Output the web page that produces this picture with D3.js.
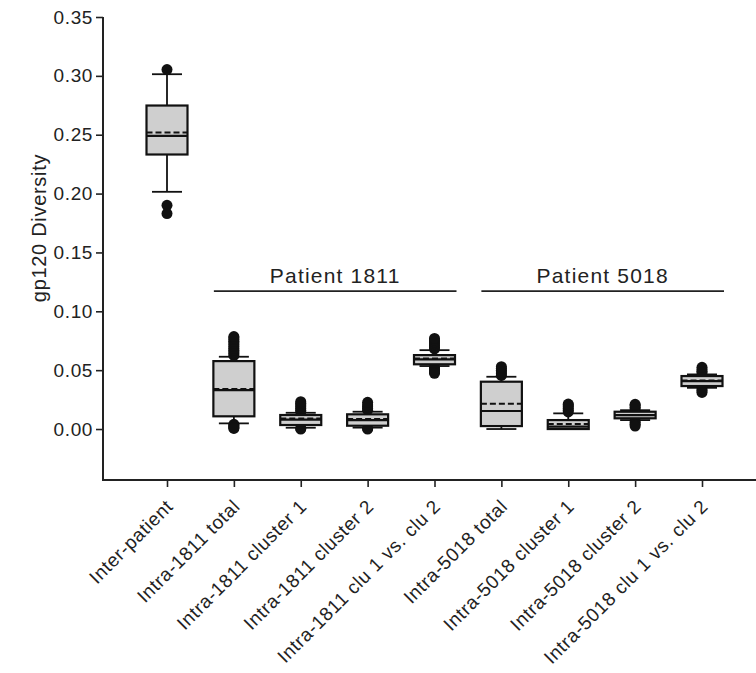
<!DOCTYPE html>
<html>
<head>
<meta charset="utf-8">
<script src="https://cdn.jsdelivr.net/npm/d3@7"></script>
<style>
    body { margin: 0; background: #fff; }
    svg { display: block; font-family: "Liberation Sans", Arial, sans-serif; }
</style>
</head>
<body>
<div id="container"></div>
<script>
// Chart size
const width = 756;
const height = 673;

// Data
const categories = [
    "Inter-patient",
    "Intra-1811 total",
    "Intra-1811 cluster 1",
    "Intra-1811 cluster 2",
    "Intra-1811 clu 1 vs. clu 2",
    "Intra-5018 total",
    "Intra-5018 cluster 1",
    "Intra-5018 cluster 2",
    "Intra-5018 clu 1 vs. clu 2"
];
const whiskerLow  = [0.2015, 0.0048, 0.0011, 0.0012, 0.0535, 0.0000, 0.0000, 0.0076, 0.0350];
const q1          = [0.2332, 0.0108, 0.0034, 0.0028, 0.0550, 0.0025, 0.0000, 0.0091, 0.0365];
const median      = [0.2490, 0.0331, 0.0080, 0.0075, 0.0592, 0.0153, 0.0020, 0.0118, 0.0407];
const mean        = [0.2519, 0.0340, 0.0090, 0.0085, 0.0600, 0.0215, 0.0042, 0.0120, 0.0412];
const q3          = [0.2748, 0.0577, 0.0119, 0.0125, 0.0628, 0.0402, 0.0076, 0.0147, 0.0450];
const whiskerHigh = [0.3014, 0.0614, 0.0138, 0.0147, 0.0670, 0.0444, 0.0133, 0.0160, 0.0464];
const outliers = [
    [0.3053, 0.1900, 0.1830],
    [0.0625, 0.064, 0.0655, 0.067, 0.0685, 0.070, 0.0715, 0.073, 0.0745, 0.076, 0.0775, 0.0785, 0.0040, 0.0030, 0.0020, 0.0010, 0.0005],
    [0.0145, 0.016, 0.0175, 0.019, 0.0205, 0.022, 0.0232, 0.0005, 0.0],
    [0.016, 0.0175, 0.019, 0.0205, 0.0227, 0.0005, 0.0],
    [0.068, 0.0695, 0.071, 0.0725, 0.074, 0.0755, 0.077, 0.0525, 0.051, 0.0495, 0.0485, 0.0473],
    [0.0455, 0.047, 0.0485, 0.050, 0.0515, 0.0529],
    [0.0145, 0.016, 0.0175, 0.019, 0.0205, 0.0212],
    [0.017, 0.0185, 0.020, 0.021, 0.007, 0.0055, 0.004, 0.0025],
    [0.0475, 0.049, 0.0505, 0.0524, 0.034, 0.0325, 0.0311]
];
const groups = [
    { label: "Patient 1811", from: "Intra-1811 total", to: "Intra-1811 clu 1 vs. clu 2" },
    { label: "Patient 5018", from: "Intra-5018 total", to: "Intra-5018 clu 1 vs. clu 2" }
];
const groupLevel = 0.1172;
const yTicks = [0, 0.05, 0.10, 0.15, 0.20, 0.25, 0.30, 0.35];

const axisLeft = 103;
const axisBottom = 480;
const boxWidth = 41;
const capWidth = 30;
const dotRadius = 5.5;

let svg;

function initSvg() {
    svg = d3.select("#container").append("svg")
        .attr("width", width)
        .attr("height", height);
}

function drawChart() {
    const x = d3.scalePoint()
        .domain(categories)
        .range([167, 702]);

    const y = d3.scaleLinear()
        .domain([-0.0433, 0.35])
        .range([axisBottom, 17]);

    const rows = categories.map((c, i) => ({
        name: c,
        lo: whiskerLow[i], q1: q1[i], med: median[i], mean: mean[i],
        q3: q3[i], hi: whiskerHigh[i], out: outliers[i]
    }));

    // y axis
    const yAxis = svg.append("g")
        .attr("transform", `translate(${axisLeft},0)`)
        .call(d3.axisLeft(y).tickValues(yTicks).tickFormat(d3.format(".2f")).tickSize(7).tickSizeOuter(0));
    yAxis.select(".domain").remove();
    yAxis.append("line")
        .attr("y1", y(0.35)).attr("y2", axisBottom)
        .attr("stroke", "#222").attr("stroke-width", 2);
    yAxis.selectAll(".tick line").attr("stroke", "#222").attr("stroke-width", 1.6);
    yAxis.selectAll(".tick text")
        .attr("x", -10)
        .attr("fill", "#222")
        .style("font-size", "19px")
        .style("letter-spacing", "0.6px");

    svg.append("text")
        .attr("transform", `translate(46,228) rotate(-90)`)
        .attr("text-anchor", "middle")
        .attr("fill", "#222")
        .style("font-size", "20px")
        .style("letter-spacing", "0.7px")
        .text("gp120 Diversity");

    // x axis
    const xAxis = svg.append("g")
        .attr("transform", `translate(0,${axisBottom})`)
        .call(d3.axisBottom(x).tickSize(7).tickSizeOuter(0));
    xAxis.select(".domain").remove();
    xAxis.append("line")
        .attr("x1", axisLeft - 1).attr("x2", width)
        .attr("stroke", "#222").attr("stroke-width", 2);
    xAxis.selectAll(".tick line").attr("stroke", "#222").attr("stroke-width", 1.6);
    xAxis.selectAll(".tick text")
        .attr("text-anchor", "end")
        .attr("transform", "translate(2,23) rotate(-45)")
        .attr("x", 0).attr("y", 0).attr("dy", "0.35em")
        .attr("fill", "#222")
        .style("font-size", "19px")
        .style("letter-spacing", "0.6px");

    // patient group brackets
    const grp = svg.append("g");
    groups.forEach(g => {
        const x1 = x(g.from) - 20, x2 = x(g.to) + 22;
        grp.append("line")
            .attr("x1", x1).attr("x2", x2)
            .attr("y1", y(groupLevel)).attr("y2", y(groupLevel))
            .attr("stroke", "#222").attr("stroke-width", 1.8);
        grp.append("text")
            .attr("x", (x1 + x2) / 2)
            .attr("y", y(groupLevel) - 8)
            .attr("text-anchor", "middle")
            .attr("fill", "#222")
            .style("font-size", "21px")
            .style("letter-spacing", "1.2px")
            .text(g.label);
    });

    const boxes = svg.append("g")
        .selectAll("g")
        .data(rows)
        .join("g")
        .attr("transform", d => `translate(${x(d.name)},0)`);

    // whiskers + caps
    boxes.append("line")
        .attr("y1", d => y(d.lo)).attr("y2", d => y(d.hi))
        .attr("stroke", "#111").attr("stroke-width", 1.8);
    boxes.selectAll(".cap")
        .data(d => [d.lo, d.hi])
        .join("line")
        .attr("class", "cap")
        .attr("x1", -capWidth / 2).attr("x2", capWidth / 2)
        .attr("y1", v => y(v)).attr("y2", v => y(v))
        .attr("stroke", "#111").attr("stroke-width", 1.8);

    // outlier dots
    boxes.selectAll("circle")
        .data(d => d.out)
        .join("circle")
        .attr("cy", v => y(v))
        .attr("r", dotRadius)
        .attr("fill", "#111");

    // box
    boxes.append("rect")
        .attr("x", -boxWidth / 2)
        .attr("width", boxWidth)
        .attr("y", d => y(d.q3))
        .attr("height", d => y(d.q1) - y(d.q3))
        .attr("fill", "#cfcfcf")
        .attr("stroke", "#111")
        .attr("stroke-width", 2.2);

    // median
    boxes.append("line")
        .attr("x1", -boxWidth / 2).attr("x2", boxWidth / 2)
        .attr("y1", d => y(d.med)).attr("y2", d => y(d.med))
        .attr("stroke", "#111").attr("stroke-width", 2.2);

    // mean (dashed)
    boxes.append("line")
        .attr("x1", -boxWidth / 2).attr("x2", boxWidth / 2)
        .attr("y1", d => y(d.mean)).attr("y2", d => y(d.mean))
        .attr("stroke", "#111").attr("stroke-width", 2)
        .attr("stroke-dasharray", "6,3");
}

initSvg();
drawChart();
</script>
</body>
</html>
